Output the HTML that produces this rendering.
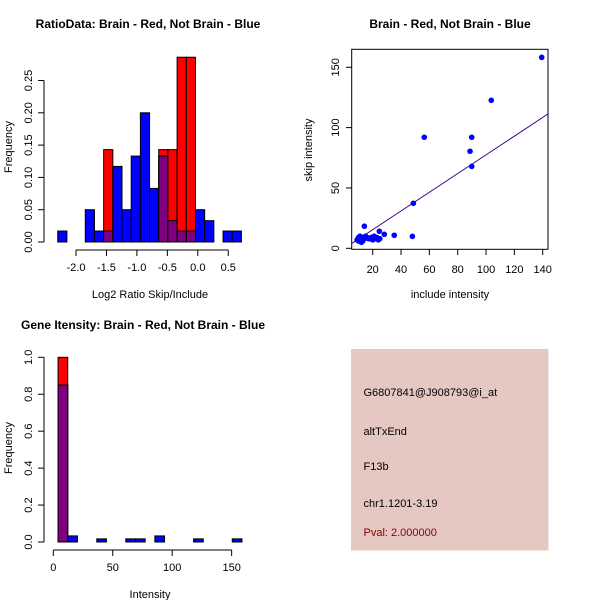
<!DOCTYPE html>
<html><head><meta charset="utf-8"><style>
body{margin:0;background:#fff}
svg{display:block;font-family:"Liberation Sans",sans-serif}
</style></head><body>
<svg id="c" width="600" height="600" viewBox="0 0 600 600"></svg>
<script>
// Panel 1: ratio histogram
const ratioBinStart = -2.3, ratioBinWidth = 0.1508;
const ratioBlue = [0.017,0,0,0.05,0.017,0.017,0.117,0.05,0.133,0.2,0.083,0.133,0.033,0.017,0.017,0.05,0.033,0,0.017,0.017];
const ratioRed  = [0,0,0,0,0,0.143,0,0,0,0,0,0.143,0.143,0.286,0.286,0,0,0,0,0];
const ratioXTicks = [-2.0,-1.5,-1.0,-0.5,0.0,0.5];
const ratioYTicks = [0,0.05,0.10,0.15,0.20,0.25];
// Panel 2: scatter
const scatterX = [139.3,103.7,56.4,88.7,89.9,89.9,48.7,48,35.2,28.2,24.7,14.1,10,11,12,11,13,14,15,16,18,20,22,23,24,12,10,17,19,21,13,9,25];
const scatterY = [158.2,122.6,92,80.4,92,67.9,37.3,9.9,10.8,11.6,14.1,18.3,6,8,7,10,9,8,10,9,8,7,8,9,7,5,9,8,9,10,6,7,8];
const fitSlope = 0.775, fitIntercept = -0.08;
const scatXTicks = [20,40,60,80,100,120,140];
const scatYTicks = [0,50,100,150];
// Panel 3: intensity histogram
const intBinStart = 4, intBinWidth = 8.14;
const intBlue = [0.85,0.033,0,0,0.017,0,0,0.017,0.017,0,0.033,0,0,0,0.017,0,0,0,0.017];
const intRed  = [1.0,0,0,0,0,0,0,0,0,0,0,0,0,0,0,0,0,0,0];
const intXTicks = [0,50,100,150];
const intYTicks = [0,0.2,0.4,0.6,0.8,1.0];

const svg = document.getElementById('c');
const NS = 'http://www.w3.org/2000/svg';
function mk(tag, attrs, parent){const e=document.createElementNS(NS,tag);for(const k in attrs)e.setAttribute(k,attrs[k]);(parent||svg).appendChild(e);return e;}
function txt(s,attrs,parent){const e=mk('text',attrs,parent);e.textContent=s;return e;}

function histogram(name, start, w, blue, red, sx, sy, y0, axY, xTicks, yTicks, yFmt, x0px){
  const g = mk('g',{});
  
  
  for(let i=0;i<blue.length;i++){
    const a=start+i*w, b=a+w, xa=sx(a), xb=sx(b);
    const rb=blue[i], rr=red[i], m=Math.min(rb,rr);
    if(rr>0){const r=mk('rect',{x:xa,y:sy(rr),width:xb-xa,height:sy(0)-sy(rr),fill:'#ff0000',stroke:'#000','stroke-width':1},g);
      }
    if(rb>0){const r=mk('rect',{x:xa,y:sy(rb),width:xb-xa,height:sy(0)-sy(rb),fill:'#0000ff',stroke:'#000','stroke-width':1},g);
      }
    if(m>0){const r=mk('rect',{x:xa,y:sy(m),width:xb-xa,height:sy(0)-sy(m),fill:'#7f007f',stroke:'#000','stroke-width':1},g);
      }
  }
  const xa=mk('g',{},g);
  
  mk('line',{x1:sx(xTicks[0]),x2:sx(xTicks[xTicks.length-1]),y1:axY,y2:axY,stroke:'#000'},xa);
  xTicks.forEach(t=>{mk('line',{x1:sx(t),x2:sx(t),y1:axY,y2:axY+6,stroke:'#000'},xa);
    txt(t.toFixed(xTicks[1]%1?1:0),{x:sx(t),y:axY+21,'font-size':11,'text-anchor':'middle'},xa);});
  const ya=mk('g',{},g);
  
  mk('line',{x1:x0px,x2:x0px,y1:sy(yTicks[0]),y2:sy(yTicks[yTicks.length-1]),stroke:'#000'},ya);
  yTicks.forEach(t=>{mk('line',{x1:x0px,x2:x0px-6,y1:sy(t),y2:sy(t),stroke:'#000'},ya);
    txt(t.toFixed(yFmt),{x:x0px-12,y:sy(t),'font-size':11,'text-anchor':'middle',transform:`rotate(-90 ${x0px-12} ${sy(t)})`},ya);});
}

// Panel 1
{
  const sx=v=>76+(v+2)*60.9, sy=v=>242-v*646;
  histogram('ratio-histogram',ratioBinStart,ratioBinWidth,ratioBlue,ratioRed,sx,sy,0,250,ratioXTicks,ratioYTicks,2,44);
  const t=txt('RatioData: Brain - Red, Not Brain - Blue',{x:148,y:28,'font-size':12,'font-weight':'bold','text-anchor':'middle'});
  
  const xl=txt('Log2 Ratio Skip/Include',{x:150,y:298,'font-size':11,'text-anchor':'middle'});
  
  const yl=txt('Frequency',{x:12,y:147,'font-size':11,'text-anchor':'middle',transform:'rotate(-90 12 147)'});
  
}
// Panel 2
{
  const sx=v=>372.7+(v-20)*1.4167, sy=v=>248.3-v*1.207;
  const g=mk('g',{});
  
  const box=mk('rect',{x:351.7,y:49.3,width:196.3,height:200,fill:'none',stroke:'#000'},g);
  
  const xs=5.4, xe=143.8;
  const fl=mk('line',{x1:sx(xs),y1:sy(fitIntercept+fitSlope*xs),x2:sx(xe),y2:sy(fitIntercept+fitSlope*xe),stroke:'#3a0090','stroke-width':1},g);
  
  scatterX.forEach((x,i)=>{const c=mk('circle',{cx:sx(x),cy:sy(scatterY[i]),r:2.8,fill:'#0000ff'},g);
    });
  const xa=mk('g',{},g);
  scatXTicks.forEach(t=>{mk('line',{x1:sx(t),x2:sx(t),y1:249.3,y2:255,stroke:'#000'},xa);
    txt(String(t),{x:sx(t),y:273,'font-size':11,'text-anchor':'middle'},xa);});
  const ya=mk('g',{},g);
  scatYTicks.forEach(t=>{mk('line',{x1:351.7,x2:346,y1:sy(t),y2:sy(t),stroke:'#000'},ya);
    txt(String(t),{x:339,y:sy(t),'font-size':11,'text-anchor':'middle',transform:`rotate(-90 339 ${sy(t)})`},ya);});
  const t=txt('Brain - Red, Not Brain - Blue',{x:450,y:28,'font-size':12,'font-weight':'bold','text-anchor':'middle'});
  
  const xl=txt('include intensity',{x:450,y:298,'font-size':11,'text-anchor':'middle'});
  
  const yl=txt('skip intensity',{x:312,y:150,'font-size':11,'text-anchor':'middle',transform:'rotate(-90 312 150)'});
  
}
// Panel 3
{
  const sx=v=>53.3+v*1.189, sy=v=>542-v*184.7;
  histogram('intensity-histogram',intBinStart,intBinWidth,intBlue,intRed,sx,sy,0,550,intXTicks,intYTicks,1,44);
  const t=txt('Gene Itensity: Brain - Red, Not Brain - Blue',{x:143,y:329,'font-size':12,'font-weight':'bold','text-anchor':'middle'});
  
  const xl=txt('Intensity',{x:150,y:598,'font-size':11,'text-anchor':'middle'});
  
  const yl=txt('Frequency',{x:12,y:448,'font-size':11,'text-anchor':'middle',transform:'rotate(-90 12 448)'});
  
}
// Panel 4
{
  const g=mk('g',{});
  
  mk('rect',{x:351,y:349,width:197.5,height:201.5,fill:'#e6c8c2'},g);
  const lines=[['G6807841@J908793@i_at',396,'#000'],['altTxEnd',435,'#000'],['F13b',470,'#000'],['chr1.1201-3.19',507,'#000'],['Pval: 2.000000',536,'#8b0000']];
  lines.forEach(l=>{const e=txt(l[0],{x:363.5,y:l[1],'font-size':11,fill:l[2]},g);
    });
}
</script>
</body></html>
